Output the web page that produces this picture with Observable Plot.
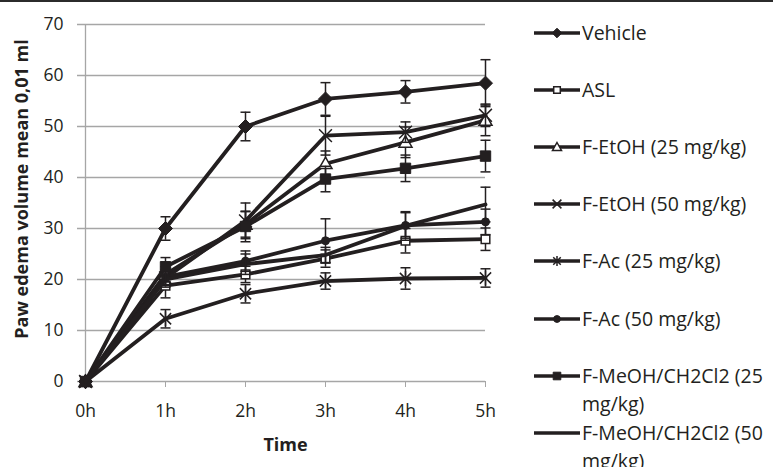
<!DOCTYPE html>
<html><head><meta charset="utf-8">
<script src="https://cdn.jsdelivr.net/npm/d3@7"></script>
<script src="https://cdn.jsdelivr.net/npm/@observablehq/plot@0.6"></script>
<style>
body{margin:0;background:#fff;}
#wrap{position:relative;width:773px;height:467px;overflow:hidden;font-family:"Open Sans",sans-serif;color:#231f20;background:#fff;}
#chart{position:absolute;left:0;top:0;}
#topline{position:absolute;left:0;top:0;width:773px;height:2px;background:#2b2b2b;}
.item{position:absolute;left:533px;display:flex;align-items:flex-start;}
.item svg{flex:none;display:block;}
.item span{font-size:19.5px;line-height:28px;white-space:pre;margin-left:1px;}
</style></head><body>
<div id="wrap"><div id="chart"></div><div id="legend"></div><div id="topline"></div></div>
<script>
// ---- data ----
const times = ["0h", "1h", "2h", "3h", "4h", "5h"];
const yTicks = [0, 10, 20, 30, 40, 50, 60, 70];
const yTitle = "Paw edema volume mean 0,01 ml";
const xTitle = "Time";
const seriesNames = ["Vehicle", "ASL", "F-EtOH (25 mg/kg)", "F-EtOH (50 mg/kg)", "F-Ac (25 mg/kg)", "F-Ac (50 mg/kg)", "F-MeOH/CH2Cl2 (25 mg/kg)", "F-MeOH/CH2Cl2 (50 mg/kg)"];
const vehicle    = [0, 30.0, 50.0, 55.4, 56.8, 58.5];
const vehicleErr = [0, 2.3, 2.8, 3.2, 2.2, 4.6];
const asl        = [0, 18.8, 21.0, 24.1, 27.6, 27.9];
const aslErr     = [0, 2.4, 1.6, 1.7, 2.4, 2.2];
const etoh25     = [0, 21.0, 30.8, 42.7, 46.9, 51.2];
const etoh25Err  = [0, 1.5, 2.5, 2.5, 3.0, 3.0];
const etoh50     = [0, 20.3, 31.5, 48.2, 48.9, 52.2];
const etoh50Err  = [0, 1.5, 3.5, 3.8, 2.0, 2.2];
const ac25       = [0, 12.3, 17.2, 19.7, 20.2, 20.3];
const ac25Err    = [0, 1.8, 1.8, 1.6, 2.1, 1.8];
const ac50       = [0, 20.5, 23.6, 27.6, 30.6, 31.3];
const ac50Err    = [0, 1.5, 2.0, 4.3, 2.5, 2.5];
const meoh25     = [0, 22.5, 30.4, 39.7, 41.8, 44.2];
const meoh25Err  = [0, 1.8, 3.0, 2.5, 2.6, 3.1];
const meoh50     = [0, 20.0, 23.0, 24.8, 30.5, 34.7];
const meoh50Err  = [0, 1.5, 2.0, 1.5, 2.8, 3.4];

const seriesValues = [vehicle, asl, etoh25, etoh50, ac25, ac50, meoh25, meoh50];
const seriesErrors = [vehicleErr, aslErr, etoh25Err, etoh50Err, ac25Err, ac50Err, meoh25Err, meoh50Err];

// ---- styles ----
const ink = "#231f20", grid = "#a6a6a6";
const rad = size => Math.sqrt(size / Math.PI);
const diamondSym = {draw(c, size){const s = rad(size); c.moveTo(0,-s); c.lineTo(s,0); c.lineTo(0,s); c.lineTo(-s,0); c.closePath();}};
const squareSym = {draw(c, size){const s = rad(size); c.moveTo(-s,-s); c.lineTo(s,-s); c.lineTo(s,s); c.lineTo(-s,s); c.closePath();}};
const triSym = {draw(c, size){const s = rad(size); c.moveTo(0,-s); c.lineTo(s,s*0.75); c.lineTo(-s,s*0.75); c.closePath();}};
const timesSym = {draw(c, size){const s = rad(size)*0.8; c.moveTo(-s,-s); c.lineTo(s,s); c.moveTo(s,-s); c.lineTo(-s,s);}};
const astSym = {draw(c, size){const s = rad(size); const d = s*0.75; c.moveTo(-d,-d); c.lineTo(d,d); c.moveTo(d,-d); c.lineTo(-d,d); c.moveTo(0,-s); c.lineTo(0,s);}};
const circSym = {draw(c, size){const s = rad(size); c.moveTo(s,0); c.arc(0,0,s,0,2*Math.PI);}};
const capSym = {draw(c, size){const s = rad(size); c.moveTo(-s,0); c.lineTo(s,0);}};

const styles = [
  {sym: diamondSym, r: 7, lr: 4.8, fill: ink, sw: 1},
  {sym: squareSym, r: 4.3, lr: 3.3, fill: "#fff", sw: 1.5},
  {sym: triSym, r: 6.5, lr: 4.5, fill: "#fff", sw: 1.5},
  {sym: timesSym, r: 8, lr: 5.5, fill: "none", sw: 1.5},
  {sym: astSym, r: 7.5, lr: 5, fill: "none", sw: 1.5},
  {sym: circSym, r: 4, lr: 3.4, fill: ink, sw: 1},
  {sym: squareSym, r: 5.2, lr: 3.8, fill: ink, sw: 1},
  {sym: null}
];

// ---- chart ----
const marks = [
  Plot.ruleY(yTicks.filter(d => d > 0), {y: d => d, stroke: grid, strokeWidth: 1.3, insetLeft: -8}),
  Plot.ruleX([times[0]], {stroke: grid, strokeWidth: 1.3}),
  Plot.ruleY([0], {stroke: grid, strokeWidth: 1.3, insetLeft: -8}),
  Plot.axisY({ticks: yTicks, tickSize: 0, tickPadding: 22, label: null, fill: ink, fontSize: 17.5}),
  Plot.axisX({tickSize: 6, tickPadding: 17, label: null, stroke: grid, fill: ink, fontSize: 17.5}),
  Plot.text([yTitle], {text: d => d, frameAnchor: "left", textAnchor: "middle", lineAnchor: "middle", rotate: -90, dx: -63, dy: -14, fontWeight: "bold", fontSize: 18, fill: ink}),
  Plot.text([xTitle], {text: d => d, frameAnchor: "bottom", lineAnchor: "middle", dy: 64, fontWeight: "bold", fontSize: 18, fill: ink})
];

seriesNames.forEach((name, k) => {
  const rows = times.map((t, i) => ({t, v: seriesValues[k][i], e: seriesErrors[k][i]}));
  const eb = rows.filter(d => d.e > 0);
  const st = styles[k];
  marks.push(Plot.line(rows, {x: "t", y: "v", stroke: ink, strokeWidth: 3.8}));
  marks.push(Plot.ruleX(eb, {x: "t", y1: d => d.v - d.e, y2: d => d.v + d.e, stroke: ink, strokeWidth: 1.5}));
  marks.push(Plot.dot(eb, {x: "t", y: d => d.v - d.e, symbol: capSym, r: 5, stroke: ink, strokeWidth: 1.5, fill: "none"}));
  marks.push(Plot.dot(eb, {x: "t", y: d => d.v + d.e, symbol: capSym, r: 5, stroke: ink, strokeWidth: 1.5, fill: "none"}));
  if (st.sym) marks.push(Plot.dot(rows, {x: "t", y: "v", symbol: st.sym, r: st.r, fill: st.fill, stroke: ink, strokeWidth: st.sw}));
});

const chart = Plot.plot({
  width: 773, height: 467,
  marginLeft: 85, marginRight: 288, marginTop: 24, marginBottom: 86,
  x: {type: "point", domain: times, padding: 0},
  y: {domain: [0, 70]},
  style: {fontFamily: "Open Sans", fontSize: "17.5px", color: ink, background: "transparent", overflow: "visible"},
  marks
});
document.getElementById("chart").appendChild(chart);

// ---- legend ----
const legend = document.getElementById("legend");
seriesNames.forEach((name, k) => {
  const st = styles[k];
  const item = document.createElement("div");
  item.className = "item";
  item.style.top = (33 + k * 57.1 - 14) + "px";
  const svg = d3.create("svg").attr("width", 48).attr("height", 28);
  svg.append("line").attr("x1", 1).attr("x2", 47).attr("y1", 14).attr("y2", 14).attr("stroke", ink).attr("stroke-width", 3.6);
  if (st.sym) {
    svg.append("path").attr("transform", "translate(24,14)")
      .attr("d", d3.symbol(st.sym, Math.PI * st.lr * st.lr)())
      .attr("fill", st.fill).attr("stroke", ink).attr("stroke-width", st.sw);
  }
  item.appendChild(svg.node());
  const span = document.createElement("span");
  span.textContent = name.length > 20 ? name.replace(" mg/kg)", "\nmg/kg)") : name;
  item.appendChild(span);
  legend.appendChild(item);
});
</script>
</body></html>
